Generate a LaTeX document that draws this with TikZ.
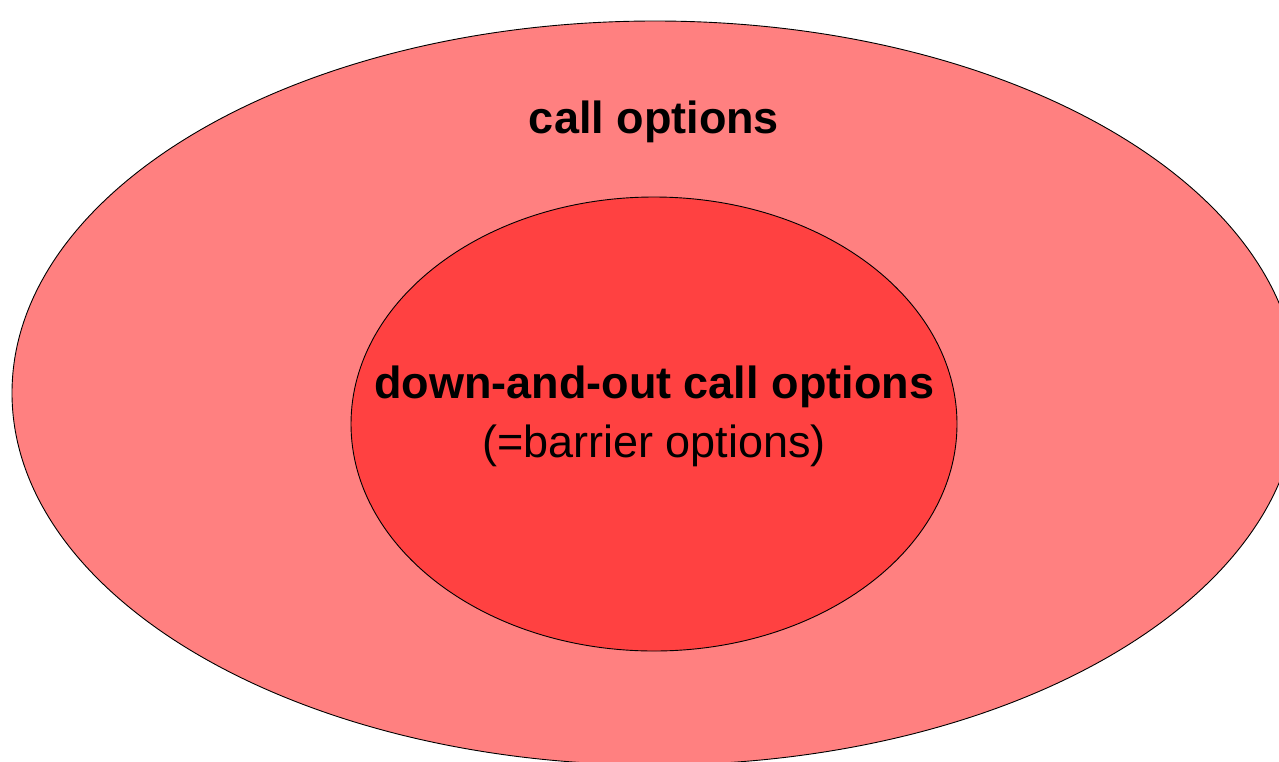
\documentclass[tikz,border=0pt]{standalone}
\usepackage{fontspec}
\setmainfont{Liberation Sans}
\usetikzlibrary{shapes.geometric}
\definecolor{outerfill}{HTML}{FF8080}
\definecolor{innerfill}{HTML}{FF4141}
\tikzset{
  setbox/.style={ellipse, draw=black, line width=0.9pt, inner sep=0pt},
  label45/.style={font=\fontsize{45}{54}\selectfont, text=black, inner sep=0pt, anchor=base},
}
\begin{document}
\begin{tikzpicture}[x=1pt, y=-1pt]
  \useasboundingbox (0,0) rectangle (1279,761);
  \clip (0,0) rectangle (1279,761);
  % outer set: all call options
  \node[setbox, fill=outerfill, minimum width=1286pt, minimum height=744pt] (calls) at (655,393) {};
  % inner set: down-and-out (barrier) call options
  \node[setbox, fill=innerfill, minimum width=606pt, minimum height=454pt] (dao) at (654,424) {};
  \node[label45] (callstxt) at (654,133.5) {\bfseries call options};
  \node[label45] (daotxt) at (654,398.5) {\bfseries down-and-out call options};
  \node[label45] (barriertxt) at (654,457) {(=barrier options)};
\end{tikzpicture}
\end{document}
